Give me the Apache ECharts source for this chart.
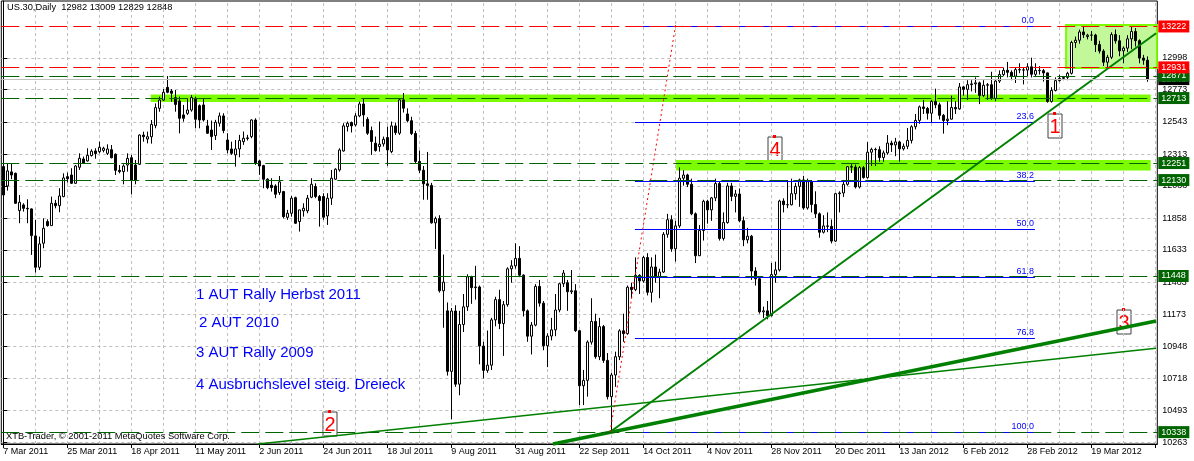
<!DOCTYPE html>
<html>
<head>
<meta charset="utf-8">
<script src="https://cdn.jsdelivr.net/npm/echarts@6/dist/echarts.min.js"></script>
<style>
html,body{margin:0;padding:0;background:#fff;}
#chart{width:1194px;height:461px;}
</style>
</head>
<body>
<div id="chart"></div>
<script>
// US.30 daily bars, 7 Mar 2011 - 9 Apr 2012 (open / high / low / close)
const opens = [12226,12088,12188,12178,11913,11953,11929,11925,11733,11510,11681,11835,11806,11965,11948,12012,12154,12166,12107,12221,12280,12266,12304,12337,12332,12341,12320,12346,12313,12199,12190,12237,12289,12237,12242,12450,12422,12438,12517,12640,12699,12789,12763,12716,12692,12593,12604,12628,12711,12659,12664,12515,12486,12446,12534,12586,12415,12351,12309,12351,12403,12425,12439,12557,12266,12233,12136,12093,12088,12041,12048,11865,11894,12005,11835,11911,11911,12008,12084,12013,12013,11875,12001,12136,12202,12337,12510,12539,12522,12586,12671,12562,12482,12392,12368,12387,12432,12332,12515,12463,
12700,12600,12552,12461,12262,12200,12103,12092,11826,11856,
11343,11200,10770,11199,10679,11103,11229,11442,11365,11370,
10950,10777,10814,11136,11280,11110,11244,11499,11520,11573,
11454,11200,11020,11099,11374,11255,10952,11021,11065,11206,
11393,11400,11336,11343,11059,10668,10706,10978,11125,10874,
11088,10848,10590,10744,10874,11058,11038,11368,11351,11453,
11413,11579,11332,11512,11439,11476,11744,11848,11641,11804,
12143,12166,12100,11890,11592,11771,11979,11918,12003,12105,
11715,11828,12088,12014,12031,11841,11705,11731,11483,11428,
11193,11200,11166,11458,11491,11981,11955,11954,12033,12085,
12131,11932,12119,11956,11890,11759,11804,11801,11696,12033,
12038,12100,12225,12222,12081,12218,12148,12328,12348,12346,
12290,12323,12393,12380,12401,12352,12370,12412,12509,12554,
12650,12639,12605,12689,12665,12590,12553,12563,12646,12636,
12792,12775,12808,12814,12821,12731,12804,12808,12711,12834,
12880,12910,12896,12868,12915,12913,12912,12935,12882,12910,
12908,12892,12689,12767,12837,12853,12860,12889,13108,13124,
13183,13150,13160,13161,13093,13047,12968,13003,13164,13120,
13049,13068,13134,13186,13121,12997,12982];
const highs = [12245,12245,12245,12183,12024,11965,11993,11929,11846,11728,11858,11851,12012,11989,12072,12178,12183,12214,12237,12320,12297,12356,12349,12356,12403,12367,12384,12379,12320,12237,12242,12320,12308,12273,12455,12474,12474,12557,12675,12723,12777,12870,12777,12770,12723,12664,12711,12735,12723,12668,12712,12558,12553,12558,12610,12605,12463,12403,12415,12451,12475,12451,12562,12569,12273,12238,12143,12143,12100,12159,12053,11918,12017,12012,11918,11965,12024,12143,12107,12024,12036,12036,12202,12214,12356,12534,12546,12546,12605,12688,12712,12577,12510,12439,12546,12439,12510,12546,12539,12712,
12749,12640,12580,12480,12340,12230,12330,12110,11870,11880,
11600,11260,11220,11240,11200,11320,11460,11450,11520,11380,
10980,11060,11150,11300,11350,11270,11510,11560,11680,11660,
11460,11210,11120,11390,11420,11270,11040,11150,11320,11400,
11490,11420,11490,11390,11060,10780,10990,11290,11180,11150,
11100,10900,10760,10910,11070,11180,11380,11400,11580,11460,
11590,11610,11580,11600,11500,11760,11890,11880,11840,12220,
12200,12175,12140,11900,11810,11990,11990,12010,12140,12120,
11900,12110,12110,12060,12070,11870,11790,11740,11510,11440,
11230,11270,11540,11550,11990,12000,12130,12140,12110,12140,
12160,12140,12130,12050,11900,11880,11900,11850,12040,12050,
12120,12230,12250,12240,12230,12230,12400,12360,12360,12370,
12340,12450,12410,12430,12410,12390,12500,12520,12600,12660,
12700,12650,12700,12780,12680,12600,12690,12730,12690,12820,
12800,12840,12840,12860,12830,12840,12820,12900,12850,12910,
12930,12970,12910,12930,12960,12930,12960,13000,12960,12940,
12920,12895,12790,12860,12880,12870,12900,13120,13150,13200,
13220,13170,13190,13170,13120,13060,13020,13180,13200,13160,
13080,13160,13222,13210,13130,13020,13009];
const lows = [12017,12055,12136,11960,11823,11906,11823,11598,11472,11491,11645,11799,11806,11929,11901,12008,12112,12102,12102,12202,12245,12261,12297,12282,12320,12327,12308,12284,12166,12178,12100,12190,12028,12100,12237,12403,12391,12389,12498,12616,12692,12747,12687,12616,12462,12545,12593,12616,12498,12498,12546,12458,12344,12415,12510,12463,12320,12309,12226,12292,12380,12411,12427,12238,12167,12072,12065,12048,12001,12024,11858,11847,11870,11818,11764,11870,11894,12001,12001,11799,11847,11811,11953,12131,12190,12332,12475,12468,12510,12577,12510,12451,12309,12332,12332,12368,12231,12321,12451,12451,
12610,12540,12450,12250,12180,11990,11990,11820,11640,11330,
11080,10740,10430,10660,10600,11050,11200,11250,11280,10820,
10720,10760,10780,11090,11070,10880,11230,11400,11500,11440,
11160,10980,10890,11090,11230,10920,10800,10990,11020,11190,
11370,11200,11320,11050,10530,10530,10590,10960,10860,10850,
10830,10570,10338,10660,10850,10980,11030,11290,11340,11320,
11400,11310,11260,11400,11290,11470,11720,11620,11550,11790,
12090,12080,11880,11540,11590,11700,11820,11840,11980,11700,
11700,11820,11980,11900,11830,11660,11680,11420,11380,11180,
11150,11140,11160,11400,11480,11900,11930,11950,11990,11940,
11920,11920,11900,11860,11720,11750,11760,11680,11690,11900,
12010,12090,12180,12070,12070,12140,12140,12230,12230,12260,
12260,12310,12330,12300,12260,12340,12350,12390,12490,12530,
12600,12560,12540,12640,12560,12460,12520,12560,12600,12630,
12730,12700,12760,12750,12670,12720,12700,12700,12690,12820,
12870,12860,12840,12820,12890,12810,12870,12860,12870,12880,
12830,12680,12680,12760,12830,12840,12840,12880,13070,13100,
13140,13130,13120,13040,13030,12940,12930,12990,13100,13010,
12960,13040,13060,13080,12960,12950,12829];
const closes = [12024,12195,12166,11965,11972,11929,11925,11735,11510,11676,11787,11806,11965,11948,12017,12145,12140,12107,12230,12285,12249,12306,12335,12318,12363,12356,12351,12289,12199,12190,12230,12284,12130,12128,12450,12438,12438,12526,12645,12699,12754,12754,12747,12668,12569,12569,12628,12716,12562,12557,12557,12463,12439,12541,12586,12482,12344,12320,12351,12411,12427,12430,12557,12249,12230,12136,12076,12076,12029,12117,11870,11894,12001,11823,11918,11930,12001,12100,12013,11984,11866,12001,12143,12207,12344,12515,12534,12515,12586,12671,12593,12463,12404,12340,12385,12420,12344,12515,12468,12700,
12641,12552,12461,12262,12200,12103,12092,11826,11856,11343,
11404,10770,11199,10679,11103,11229,11442,11365,11370,10950,
10777,10814,11136,11280,11110,11244,11499,11520,11573,11454,
11200,11020,11099,11374,11255,10952,11021,11065,11206,11393,
11469,11336,11343,11059,10668,10706,10978,11125,10874,11088,
10848,10590,10744,10874,11058,11038,11368,11351,11453,11413,
11579,11332,11512,11439,11476,11744,11848,11641,11804,12143,
12166,12100,11890,11592,11771,11979,11918,12003,12105,11715,
11828,12088,12014,12031,11841,11705,11731,11483,11428,11193,
11200,11166,11458,11491,11981,11955,11954,12033,12085,12131,
11932,12119,11956,11890,11759,11804,11801,11696,12033,12038,
12100,12225,12222,12081,12218,12148,12328,12348,12346,12290,
12323,12393,12380,12401,12352,12370,12412,12509,12554,12650,
12639,12605,12689,12665,12590,12553,12563,12646,12636,12792,
12775,12808,12814,12821,12731,12804,12808,12711,12834,12880,
12910,12896,12868,12915,12913,12912,12935,12882,12910,12908,
12892,12689,12767,12837,12853,12860,12889,13108,13124,13183,
13163,13160,13161,13093,13047,12968,13003,13164,13120,13049,
13068,13134,13186,13121,12997,12982,12848];

// time axis: one label every 16 bars, grid every 8 bars
const dateLabels = ['7 Mar 2011','25 Mar 2011','18 Apr 2011','11 May 2011','2 Jun 2011','24 Jun 2011','18 Jul 2011','9 Aug 2011','31 Aug 2011','22 Sep 2011','14 Oct 2011','4 Nov 2011','28 Nov 2011','20 Dec 2011','13 Jan 2012','6 Feb 2012','28 Feb 2012','19 Mar 2012'];
const slotCount = 289;

// price scale ticks
const priceTicks = [10263,10493,10718,10948,11173,11403,11633,11858,12088,12313,12543,12773,12998];

// horizontal levels
const redLevels = [13222, 12931];
const greenLevels = [12871, 12713, 12251, 12130, 11448, 10338];
const bidPrice = 12848;

// Fibonacci retracement between the October low and the April high
const fibLow = 10338, fibHigh = 13222;
const fibRatios = [0, 0.236, 0.382, 0.5, 0.618, 0.768, 1];
const fibNames = ['0.0','23.6','38.2','50.0','61.8','76.8','100.0'];
const fibSpan = [157.9, 257.9];

// trend lines: [barFrom, priceFrom, barTo, priceTo, width]
const trendLines = [
  [151.7, 10339, 288.2, 13174, 2],
  [137.4, 10254, 288.2, 11128, 3.5],
  [63.7, 10254, 288.2, 10934, 1.6]
];
const fibAnchor = [151.7, 10339, 168.2, 13254];

// highlighted zones: [barFrom, barTo, priceTop, priceBottom]
const zones = [
  [36.85, 286.85, 12738, 12685],
  [168.2, 286.85, 12273, 12198]
];
const rangeBox = [265.7, 288.4, 13233, 12927];

const FONT = '"Liberation Sans", Arial, sans-serif';
const DARKGREEN = '#006400';
const LIME = '#7cfc00';

const candles = opens.map((o, i) => [o, closes[i], lows[i], highs[i]]);
const slots = Array.from({length: slotCount}, (_, i) => i);

function levelItem(v, color, lineType, labelColor) {
  return {
    yAxis: v,
    lineStyle: {color: color, type: lineType, width: 1},
    label: {
      show: true, position: 'end', distance: 1, formatter: String(v),
      backgroundColor: labelColor || color, color: '#fff',
      fontSize: 9, fontFamily: FONT, padding: [2, 3, 1, 3]
    }
  };
}

const gridLines = [];
for (let i = 0; i < slotCount; i += 8) gridLines.push({xAxis: i});
priceTicks.forEach(v => gridLines.push({yAxis: v}));

const levelData = [];
levelData.push(levelItem(bidPrice, '#c0c0c0', 'solid', '#000'));
greenLevels.forEach(v => levelData.push(levelItem(v, DARKGREEN, [18, 6])));
redLevels.forEach(v => levelData.push(levelItem(v, '#ff0000', [18, 6])));

const fibData = fibRatios.map((r, k) => {
  const v = fibHigh - r * (fibHigh - fibLow);
  return [
    {coord: [fibSpan[0], v], lineStyle: {color: '#0000ff', width: 1, type: 'solid'},
     label: {show: true, position: 'insideEndTop', formatter: fibNames[k], color: '#0000ff', fontSize: 9, fontFamily: FONT, distance: 1}},
    {coord: [fibSpan[1], v]}
  ];
});

const trendData = trendLines.map(t => [
  {coord: [t[0], t[1]], lineStyle: {color: '#008000', width: t[4], type: 'solid'}, label: {show: false}},
  {coord: [t[2], t[3]]}
]);
trendData.push([
  {coord: [fibAnchor[0], fibAnchor[1]], lineStyle: {color: '#ff0000', width: 1, type: [2, 3]}, label: {show: false}},
  {coord: [fibAnchor[2], fibAnchor[3]]}
]);

const zoneData = zones.map(z => [
  {coord: [z[0], z[2]], itemStyle: {color: LIME, opacity: 1}},
  {coord: [z[1], z[3]]}
]);
zoneData.push([
  {coord: [rangeBox[0], rangeBox[2]], itemStyle: {color: '#c2f79a', borderColor: LIME, borderWidth: 2, opacity: 1}},
  {coord: [rangeBox[1], rangeBox[3]]}
]);

function numberTag(x, y, txt) {
  return {
    type: 'group', x: x, y: y, z: 100,
    children: [
      {type: 'rect', shape: {x: 0, y: 0, width: 14, height: 24}, style: {fill: '#fff', stroke: '#404040', lineWidth: 1}},
      {type: 'rect', shape: {x: 5, y: -2, width: 3, height: 3}, style: {fill: '#ff0000'}},
      {type: 'text', x: 7, y: 13, style: {text: txt, fill: '#ff0000', font: '20px ' + FONT, align: 'center', verticalAlign: 'middle'}}
    ]
  };
}

const chart = echarts.init(document.getElementById('chart'), null, {renderer: 'canvas'});
chart.setOption({
  animation: false,
  backgroundColor: '#ffffff',
  grid: {left: 1.3, top: 1, width: 1156, height: 443, show: true, borderColor: '#000', borderWidth: 1},
  xAxis: [
    {
      type: 'category', data: slots, boundaryGap: true,
      axisLine: {show: true, lineStyle: {color: '#000'}},
      axisTick: {show: true, alignWithLabel: true, length: 4, interval: (i) => i % 16 === 0, lineStyle: {color: '#000'}},
      axisLabel: {
        show: true, interval: (i) => i % 16 === 0, align: 'left', margin: 3,
        fontSize: 9, fontFamily: FONT, color: '#000',
        formatter: (v, i) => dateLabels[i / 16] || ''
      },
      splitLine: {show: false}
    },
    {type: 'value', min: -0.5, max: slotCount - 0.5, show: false}
  ],
  yAxis: {
    type: 'value', position: 'right', min: 10253.5, max: 13403,
    axisLine: {show: true, lineStyle: {color: '#000'}},
    axisTick: {show: true, length: 4, customValues: priceTicks, lineStyle: {color: '#000'}},
    axisLabel: {show: true, customValues: priceTicks, fontSize: 9, fontFamily: FONT, color: '#000', margin: 5,
      formatter: (v) => String(Math.round(v))},
    splitLine: {show: false}
  },
  series: [
    {
      name: 'grid', type: 'line', xAxisIndex: 1, data: [], silent: true, clip: false, z: 0,
      markLine: {silent: true, symbol: ['none', 'none'], z: 0, label: {show: false},
        lineStyle: {color: '#c0c0c0', type: [3, 3], width: 1}, data: gridLines}
    },
    {
      name: 'zones', type: 'line', xAxisIndex: 1, data: [], silent: true, clip: false, z: 1,
      markArea: {silent: true, z: 1, data: zoneData}
    },
    {
      name: 'US.30', type: 'candlestick', data: candles, barWidth: 3, z: 2,
      itemStyle: {color: '#ffffff', color0: '#000000', borderColor: '#000000', borderColor0: '#000000', borderWidth: 1}
    },
    {
      name: 'levels', type: 'line', xAxisIndex: 1, data: [], silent: true, clip: false, z: 5,
      markLine: {silent: true, symbol: ['none', 'none'], z: 5, data: fibData.concat(trendData)}
    },
    {
      name: 'priceLevels', type: 'line', xAxisIndex: 1, data: [], silent: true, clip: false, z: 6,
      markLine: {silent: true, symbol: ['none', 'none'], z: 6, data: levelData}
    }
  ],
  graphic: [
    {type: 'text', x: 7, y: 3, z: 100, style: {text: 'US.30,Daily  12982 13009 12829 12848', fill: '#000', font: '9.3px ' + FONT}},
    {type: 'text', x: 6, y: 432, z: 100, style: {text: 'XTB-Trader, © 2001-2011 MetaQuotes Software Corp.', fill: '#000', font: '9.3px ' + FONT}},
    {type: 'text', x: 196, y: 287, z: 100, style: {text: '1 AUT Rally Herbst 2011', fill: '#0000ff', font: '15px ' + FONT}},
    {type: 'text', x: 199, y: 315, z: 100, style: {text: '2 AUT 2010', fill: '#0000ff', font: '15px ' + FONT}},
    {type: 'text', x: 196, y: 345, z: 100, style: {text: '3 AUT Rally 2009', fill: '#0000ff', font: '15px ' + FONT}},
    {type: 'text', x: 196, y: 377, z: 100, style: {text: '4 Ausbruchslevel steig. Dreieck', fill: '#0000ff', font: '15px ' + FONT}},
    numberTag(1048, 114, '1'),
    numberTag(323, 412, '2'),
    numberTag(1117, 310, '3'),
    numberTag(768, 137, '4')
  ]
});
</script>
</body>
</html>
